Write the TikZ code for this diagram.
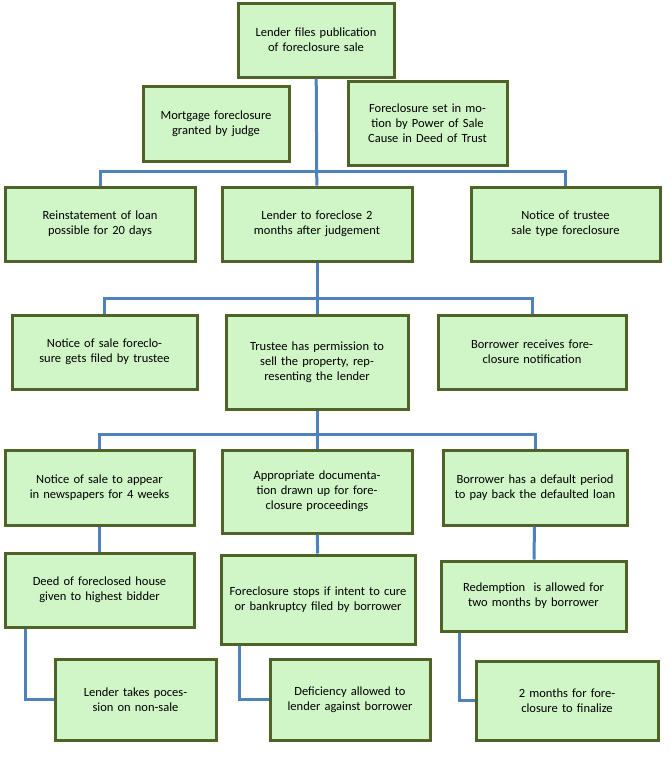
\documentclass[tikz,border=0pt]{standalone}
\usepackage{fontspec}
\setmainfont{Carlito}
\usetikzlibrary{positioning}
\definecolor{boxfill}{RGB}{208,246,200}
\definecolor{boxline}{RGB}{79,98,40}
\definecolor{linkblue}{RGB}{79,129,189}
\tikzset{
  box/.style={draw=boxline, fill=boxfill, line width=3pt, align=center, inner sep=2pt,
    font=\fontsize{12.5}{15}\selectfont},
  link/.style={draw=linkblue, line width=3pt}
}
\begin{document}
\begin{tikzpicture}[x=1pt, y=-1pt]
   \useasboundingbox (0,0) rectangle (671,777);
   \node[box, minimum width=156, minimum height=74, text width=140] (b1) at (316,40) {Lender files publication of foreclosure sale};
   \node[box, minimum width=146, minimum height=75, text width=130] (b2) at (216,123.5) {Mortgage foreclosure granted by judge};
   \node[box, minimum width=159, minimum height=84, text width=145] (b3) at (427.5,123) {Foreclosure set in motion by Power of Sale Cause in Deed of Trust};
   \node[box, minimum width=190, minimum height=74, text width=176] (b4) at (100,224) {Reinstatement of loan possible for 20 days};
   \node[box, minimum width=190, minimum height=74, text width=176] (b5) at (317,224) {Lender to foreclose 2 months after judgement};
   \node[box, minimum width=189, minimum height=74, text width=176] (b6) at (565.5,224) {Notice of trustee sale type foreclosure};
   \node[box, minimum width=185, minimum height=74, text width=172] (b7) at (104.5,352) {Notice of sale foreclosure gets filed by trustee};
   \node[box, minimum width=182, minimum height=94, text width=170] (b8) at (317,362) {Trustee has permission to sell the property, representing the lender};
   \node[box, minimum width=188, minimum height=74, text width=176] (b9) at (532,352) {Borrower receives foreclosure notification};
   \node[box, minimum width=189, minimum height=75, text width=176] (b10) at (99.5,487.5) {Notice of sale to appear in newspapers for 4 weeks};
   \node[box, minimum width=190, minimum height=83, text width=178] (b11) at (317,491.5) {Appropriate documentation drawn up for foreclosure proceedings};
   \node[box, minimum width=184, minimum height=75, text width=170] (b12) at (535,487.5) {Borrower has a default period to pay back the defaulted loan};
   \node[box, minimum width=189, minimum height=74, text width=176] (b13) at (99.5,590) {Deed of foreclosed house given to highest bidder};
   \node[box, minimum width=194, minimum height=89, text width=184] (b14) at (318,599.5) {Foreclosure stops if intent to cure or bankruptcy filed by borrower};
   \node[box, minimum width=185, minimum height=70, text width=172] (b15) at (533.5,596) {Redemption\ \ is allowed for two months by borrower};
   \node[box, minimum width=161, minimum height=81, text width=150] (b16) at (135.5,699.5) {Lender takes pocession on non-sale};
   \node[box, minimum width=160, minimum height=81, text width=148] (b17) at (350,699.5) {Deficiency allowed to lender against borrower};
   \node[box, minimum width=182, minimum height=79, text width=170] (b18) at (567,700.5) {2 months for foreclosure to finalize};

   % tree links
   \draw[link] (b1) -- (b5);
   \draw[link] (b4.north) -- ++(0,-14) -| (b6.north);
   \draw[link] (b5) -- (b8);
   \draw[link] (b7.north) -- ++(0,-15) -| (b9.north);
   \draw[link] (b8) -- (b11);
   \draw[link] (b10.north) -- ++(0,-14) -| (b12.north);
   \draw[link] (b10) -- (b13);
   \draw[link] (b11) -- (b14);
   \draw[link] (b12) -- (b15);
   % elbows
   \draw[link] (b13.south west) ++(22,0) |- (b16.west);
   \draw[link] (b14.south west) ++(20,0) |- (b17.west);
   \draw[link] (b15.south west) ++(20,0) |- (b18.west);
\end{tikzpicture}
\end{document}
